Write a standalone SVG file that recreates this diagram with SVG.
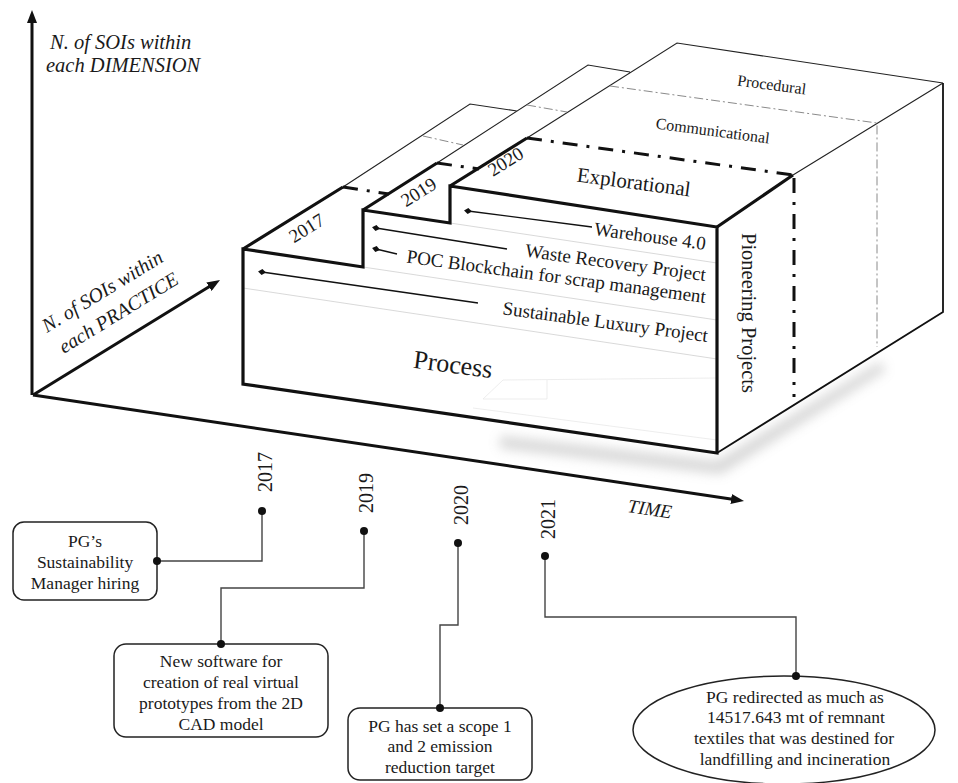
<svg xmlns="http://www.w3.org/2000/svg" width="958" height="783" viewBox="0 0 958 783">
<defs>
<style>
.t{font-family:"Liberation Serif","Times New Roman",serif;fill:#1a1a1a}
.it{font-style:italic}
.axis{stroke:#111;stroke-width:3;fill:none;marker-end:url(#arr)}
.edge{stroke:#111;stroke-width:3.2;fill:none;stroke-linejoin:miter}
.side{stroke:#111;stroke-width:1.8;fill:none}
.thin{stroke:#222;stroke-width:1.1;fill:none}
.dd{stroke:#111;stroke-width:3;fill:none;stroke-dasharray:15 9 3 9}
.ddt{stroke:#8a8a8a;stroke-width:1;fill:none;stroke-dasharray:9 3 2 3}
.row{stroke:#cfcfcf;stroke-width:0.8;fill:none}
.ghost{stroke:#e8e8e8;stroke-width:0.8;fill:none}
.lead{stroke:#111;stroke-width:1.3;fill:none;marker-start:url(#dia)}
.conn{stroke:#444;stroke-width:1.4;fill:none}
.box{fill:#fff;stroke:#222;stroke-width:1.5}
.dot{fill:#111}
</style>
<marker id="arr" markerUnits="userSpaceOnUse" markerWidth="13" markerHeight="10" refX="3" refY="5" orient="auto"><path d="M0,0 L13,5 L0,10 z" fill="#111"/></marker>
<marker id="dia" markerUnits="userSpaceOnUse" markerWidth="8" markerHeight="8" refX="4" refY="4" orient="auto"><path d="M0,4 L4,1 L8,4 L4,7 z" fill="#111"/></marker>
<filter id="soft" x="-20%" y="-60%" width="140%" height="220%"><feGaussianBlur stdDeviation="6"/></filter>
</defs>

<!-- axes -->
<g id="axes">
<line class="axis" x1="32" y1="395" x2="32" y2="20"/>
<line class="axis" x1="33" y1="395" x2="211.5" y2="285.2"/>
<line class="axis" x1="33" y1="395" x2="734.1" y2="499.5"/>
<text class="t it" x="50" y="49" font-size="20.5">N. of SOIs within</text>
<text class="t it" x="46" y="72" font-size="20.5">each DIMENSION</text>
<text class="t it" font-size="20" transform="translate(47,333) rotate(-31.5)">N. of SOIs within</text>
<text class="t it" font-size="20" transform="translate(64,354) rotate(-31.5)">each PRACTICE</text>
<text class="t it" font-size="19" transform="translate(627,512) rotate(8.5)">TIME</text>
</g>

<!-- stepped block -->
<g id="block">
<polygon points="500,436 717,461 880,362 886,370 721,474 500,448" fill="#9a9a9a" opacity="0.4" filter="url(#soft)"/>
<polygon points="243,384 243,249 470,104 517,111 588,65 630,72 677,43 943,83 943,312 717,453" fill="#fff"/>
<path class="row" d="M450,223 L717,263 M363,267 L717,320 M243,288 L717,359"/>
<path class="ghost" d="M503,380 L717,378 M547,380 V399 M483,399 H547 M483,399 L503,380 M473,408 L717,440"/>
<path class="thin" d="M343,187 L470,104 L517,111 M437,163 L588,65 L630,72 M527,138 L677,43 L943,83 M793,175 L943,83"/>
<path class="side" d="M943,83 L943,312 L717,453"/>
<path class="ddt" d="M423,136 L463,145 M527,105 L567,112 M610,86 L877,123 L877,347"/>
<path class="dd" d="M343,187 L389,194 M437,163 L479,169 M527,138 L793,175 M794,178 L794,397"/>
<path class="edge" d="M243,384 L243,249 L363,267 L363,210 L450,223 L450,186 L717,227 L717,453 Z"/>
<path class="edge" d="M243,249 L343,187 M363,210 L437,163 M450,186 L527,138 M717,227 L793,175"/>
</g>

<g id="dimension-labels">
<text class="t" font-size="16" text-anchor="middle" transform="translate(771,90) rotate(7.5)">Procedural</text>
<text class="t" font-size="16" text-anchor="middle" transform="translate(712,136) rotate(7.5)">Communicational</text>
<text class="t" font-size="21" text-anchor="middle" transform="translate(633,189) rotate(7.5)">Explorational</text>
<text class="t" font-size="26" text-anchor="middle" transform="translate(452,373) rotate(7.5)">Process</text>
<text class="t" font-size="20.5" transform="translate(742,233) rotate(90)">Pioneering Projects</text>
</g>

<g id="step-years">
<text class="t" font-size="19" text-anchor="middle" transform="translate(310,233.5) rotate(-32)">2017</text>
<text class="t" font-size="19" text-anchor="middle" transform="translate(422,197.5) rotate(-32)">2019</text>
<text class="t" font-size="19" text-anchor="middle" transform="translate(509,167) rotate(-32)">2020</text>
</g>

<g id="projects">
<line class="lead" x1="468" y1="211" x2="592" y2="227"/>
<text class="t" font-size="19" text-anchor="end" transform="translate(705,250) rotate(7.7)">Warehouse 4.0</text>
<line class="lead" x1="376" y1="228" x2="507" y2="249"/>
<text class="t" font-size="19" text-anchor="end" transform="translate(705,281) rotate(7.7)">Waste Recovery Project</text>
<line class="lead" x1="376" y1="249" x2="397" y2="254"/>
<text class="t" font-size="19" text-anchor="end" transform="translate(705,303) rotate(7.7)">POC Blockchain for scrap management</text>
<line class="lead" x1="262" y1="272" x2="478" y2="303"/>
<text class="t" font-size="19" text-anchor="end" transform="translate(707,342) rotate(7.7)">Sustainable Luxury Project</text>
</g>

<!-- timeline connectors -->
<g id="connectors">
<path class="conn" d="M262,511 V561 H157"/>
<path class="conn" d="M364,531 V588 H221 V644"/>
<path class="conn" d="M458,543 V625 H440 V708"/>
<path class="conn" d="M545,556 V617 H796 V676"/>
</g>

<g id="year-2017">
<text class="t" font-size="20" transform="translate(272,492) rotate(-90)">2017</text>
<circle class="dot" cx="262" cy="511" r="4"/>
</g>
<g id="year-2019">
<text class="t" font-size="20" transform="translate(373,513) rotate(-90)">2019</text>
<circle class="dot" cx="364" cy="531" r="4"/>
</g>
<g id="year-2020">
<text class="t" font-size="20" transform="translate(468,525) rotate(-90)">2020</text>
<circle class="dot" cx="458" cy="543" r="4"/>
</g>
<g id="year-2021">
<text class="t" font-size="20" transform="translate(555,539) rotate(-90)">2021</text>
<circle class="dot" cx="545" cy="556" r="4"/>
</g>

<g id="event-hiring">
<rect class="box" x="13" y="522" width="144" height="78" rx="11"/>
<circle class="dot" cx="157" cy="561" r="4"/>
<text class="t" font-size="17.5" text-anchor="middle" x="85"><tspan x="85" y="547">PG’s</tspan><tspan x="85" y="568">Sustainability</tspan><tspan x="85" y="589">Manager hiring</tspan></text>
</g>

<g id="event-software">
<rect class="box" x="114" y="644" width="214" height="93" rx="12"/>
<circle class="dot" cx="221" cy="644" r="4"/>
<text class="t" font-size="17.5" text-anchor="middle"><tspan x="221" y="667">New software for</tspan><tspan x="221" y="688">creation of real virtual</tspan><tspan x="221" y="709">prototypes from the 2D</tspan><tspan x="221" y="730">CAD model</tspan></text>
</g>

<g id="event-emission">
<rect class="box" x="348" y="708" width="184" height="72" rx="12"/>
<circle class="dot" cx="440" cy="708" r="4"/>
<text class="t" font-size="17.5" text-anchor="middle"><tspan x="440" y="732">PG has set a scope 1</tspan><tspan x="440" y="752">and 2 emission</tspan><tspan x="440" y="773">reduction target</tspan></text>
</g>

<g id="event-textiles">
<ellipse class="box" cx="784" cy="730" rx="151" ry="54"/>
<circle class="dot" cx="796" cy="676" r="4"/>
<text class="t" font-size="17.5" text-anchor="middle"><tspan x="795" y="703">PG redirected as much as</tspan><tspan x="796" y="723">14517.643 mt of remnant</tspan><tspan x="794" y="744">textiles that was destined for</tspan><tspan x="795" y="765">landfilling and incineration</tspan></text>
</g>
</svg>
